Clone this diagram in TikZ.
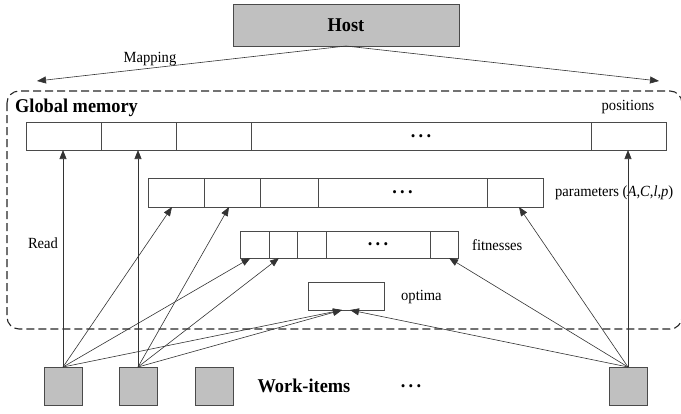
\documentclass[tikz,border=0pt]{standalone}
\usepackage{fontspec}
\setmainfont{Liberation Serif}[FakeStretch=0.94]
\usetikzlibrary{arrows.meta}
\definecolor{boxgray}{HTML}{C0C0C0}
\definecolor{edgegray}{HTML}{4A4A4A}
\tikzset{
  cell/.style={draw=edgegray, line width=0.8pt, inner sep=0pt, outer sep=0pt},
  graybox/.style={draw=edgegray, line width=0.8pt, fill=boxgray, inner sep=0pt, outer sep=0pt},
  lbl/.style={inner sep=0pt, font=\fontsize{15.5}{17}\selectfont},
  blbl/.style={inner sep=0pt, font=\fontsize{19.5}{21}\selectfont\bfseries},
  dotsf/.style={font=\fontsize{19.5}{21}\selectfont\bfseries},
  arr/.style={draw=black!80, line width=0.6pt, -{Triangle[length=9pt,width=7pt]}},
  memframe/.style={draw=black!85, line width=1.1pt, dash pattern=on 8pt off 4pt, rounded corners=12pt}
}
\newcommand{\mydots}{.\,.\,.}
\begin{document}
\begin{tikzpicture}[x=1pt,y=-1pt]
\useasboundingbox (0,0) rectangle (681,413);

% Host
\node[graybox, minimum width=226, minimum height=42, blbl] (host) at (346,25) {};
\node[blbl] (hosttxt) at (346,25) {Host};
\node[lbl] (mapping) at (150,59) {Mapping};
\coordinate (mapL) at (37,81);
\coordinate (mapR) at (659,81);
\draw[arr] (host.south) -- (mapL);
\draw[arr] (host.south) -- (mapR);

% Global memory frame
\draw[memframe] (7,91) rectangle (682,329);
\node[blbl, anchor=west] (gm) at (15,108) {Global memory};
\node[lbl] (poslbl) at (628,107) {positions};

% positions array
\foreach \i/\a/\b in {1/26/101, 2/101/176, 3/176/251, 5/591/666}
  \node[cell, minimum width={\b-\a}, minimum height=28] (pos\i) at ({(\a+\b)/2},136) {};
\node[cell, minimum width=340, minimum height=28, dotsf] (pos4) at (421,136) {\mydots};

% parameters array
\foreach \i/\a/\b in {1/148/204, 2/204/260, 3/260/318, 5/487/543}
  \node[cell, minimum width={\b-\a}, minimum height=29] (par\i) at ({(\a+\b)/2},192.5) {};
\node[cell, minimum width=169, minimum height=29, dotsf] (par4) at (402.5,192.5) {\mydots};
\node[lbl, anchor=west] (parlbl) at (555,193) {parameters (\textit{A},\textit{C},\textit{l},\textit{p})};

% fitnesses array
\foreach \i/\a/\b in {1/240/269, 2/269/297, 3/297/326, 5/430/458}
  \node[cell, minimum width={\b-\a}, minimum height=27] (fit\i) at ({(\a+\b)/2},244.5) {};
\node[cell, minimum width=104, minimum height=27, dotsf] (fit4) at (378,244.5) {\mydots};
\node[lbl, anchor=west] (fitlbl) at (472,245) {fitnesses};

% optima
\node[cell, minimum width=76, minimum height=28] (opt) at (346,296) {};
\node[lbl, anchor=west] (optlbl) at (401,297) {optima};

\node[lbl] (read) at (43,243) {Read};

% work-items
\node[graybox, minimum width=38, minimum height=38] (w1) at (63,386) {};
\node[graybox, minimum width=38, minimum height=38] (w2) at (138,386) {};
\node[graybox, minimum width=38, minimum height=38] (w3) at (214,386) {};
\node[graybox, minimum width=38, minimum height=38] (w4) at (628,386) {};
\node[blbl] (wilbl) at (304,386) {Work-items};
\node[dotsf, inner sep=0pt] (widots) at (411,386) {\mydots};

% arrows from work-items
\draw[arr] (w1.north) -- (w1.north |- pos1.south);
\draw[arr] (w2.north) -- (w2.north |- pos2.south);
\draw[arr] (w4.north) -- (w4.north |- pos5.south);

\draw[arr] (w1.north) -- ([xshift=-4pt]par1.south);
\draw[arr] (w2.north) -- ([xshift=-3pt]par2.south);
\draw[arr] (w4.north) -- ([xshift=4pt]par5.south);

\draw[arr] (w1.north) -- ([xshift=-4pt]fit1.south);
\draw[arr] (w2.north) -- ([xshift=-4pt]fit2.south);
\draw[arr] (w4.north) -- ([xshift=5pt]fit5.south);

\draw[arr] (w1.north) -- ([xshift=-4pt]opt.south);
\draw[arr] (w2.north) -- ([xshift=-4pt]opt.south);
\draw[arr] (w4.north) -- ([xshift=4pt]opt.south);
\end{tikzpicture}
\end{document}
